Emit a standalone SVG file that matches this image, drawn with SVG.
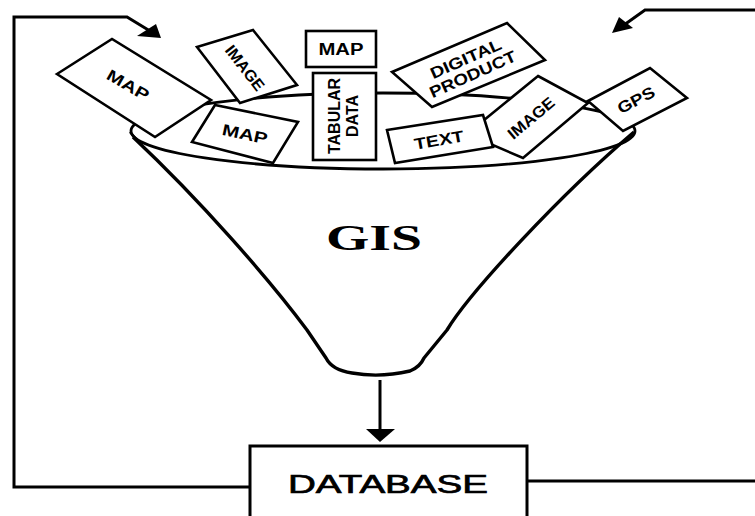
<svg xmlns="http://www.w3.org/2000/svg" width="755" height="516" viewBox="0 0 755 516">
<style>
.box{fill:#fff;stroke:#000;stroke-width:2.6;stroke-linejoin:miter}
.lbl{font-family:"Liberation Sans",Arial,sans-serif;font-size:16px;fill:#000;text-anchor:middle;font-weight:bold}
.line{fill:none;stroke:#000;stroke-width:3}
.head{fill:#000;stroke:none}
</style>
<rect width="755" height="516" fill="#fff"/>
<g id="connectors">
<polyline class="line" points="250,487 14,487 14,17 127,17 150,31"/>
<polygon class="head" points="137,36 156,24 161,38"/>
<polyline class="line" points="527,481 755,481"/>
<polyline class="line" points="755,10 645,10 624,25"/>
<polygon class="head" points="612,33 619,17 633,28"/>
<line class="line" x1="380" y1="380" x2="380" y2="432"/>
<polygon class="head" points="366,429 395,429 380,442"/>
</g>
<g id="funnel">
<ellipse cx="383" cy="131" rx="252" ry="38" fill="#fff" stroke="#000" stroke-width="2.8"/>
<path d="M133,137 C200,200 270,280 307,330 L326,358 Q332,370 352,373 Q380,378 410,371 Q420,367 424,358 L447,330 C470,292 560,195 634,132" fill="none" stroke="#000" stroke-width="3.4" stroke-linejoin="round"/>
<path d="M130,132 L137,140" fill="none" stroke="#000" stroke-width="2.6"/>
<text x="374" y="250" font-family="'Liberation Serif','Times New Roman',serif" font-size="35" font-weight="bold" text-anchor="middle" textLength="96" lengthAdjust="spacingAndGlyphs">GIS</text>
</g>
<g id="map1">
<polygon class="box" points="57,74 112,39 211,100 155,137"/>
<text class="lbl" transform="translate(128,85) rotate(30)" dy="0.35em" textLength="46" lengthAdjust="spacingAndGlyphs">MAP</text>
</g>
<g id="image1">
<polygon class="box" points="197,47 253,30 297,85 240,103"/>
<text class="lbl" font-size="15" transform="translate(245,68) rotate(52)" dy="0.35em" textLength="53" lengthAdjust="spacingAndGlyphs">IMAGE</text>
</g>
<g id="map2">
<polygon class="box" points="215,105 298,122 273,163 192,142"/>
<text class="lbl" transform="translate(245,134) rotate(12)" dy="0.35em" textLength="46" lengthAdjust="spacingAndGlyphs">MAP</text>
</g>
<g id="map3">
<rect class="box" x="306" y="31" width="70" height="36"/>
<text class="lbl" x="341" y="49" dy="0.35em" textLength="45" lengthAdjust="spacingAndGlyphs">MAP</text>
</g>
<g id="tabular">
<rect class="box" x="313" y="73" width="63" height="87"/>
<text class="lbl" font-size="14" transform="translate(344.5,116) rotate(-90)"><tspan x="0" y="-10.5" dy="0.35em">TABULAR</tspan><tspan x="0" y="8" dy="0.35em">DATA</tspan></text>
</g>
<g id="digital">
<polygon class="box" points="392,72 507,23 545,60 432,107"/>
<text class="lbl" transform="translate(469,66) rotate(-24)"><tspan x="0" y="-8" dy="0.35em" textLength="76" lengthAdjust="spacingAndGlyphs">DIGITAL</tspan><tspan x="0" y="9" dy="0.35em" textLength="93" lengthAdjust="spacingAndGlyphs">PRODUCT</tspan></text>
</g>
<g id="gps">
<polygon class="box" points="588,101 650,68 687,98 623,131"/>
<text class="lbl" transform="translate(636,100) rotate(-28)" dy="0.35em" textLength="40" lengthAdjust="spacingAndGlyphs">GPS</text>
</g>
<g id="image2">
<polygon class="box" points="538,76 588,103 523,158 467,134"/>
<text class="lbl" font-size="15" transform="translate(531,118) rotate(-40)" dy="0.35em" textLength="56" lengthAdjust="spacingAndGlyphs">IMAGE</text>
</g>
<g id="text">
<polygon class="box" points="387,130 483,115 493,147 395,163"/>
<text class="lbl" transform="translate(439,140) rotate(-10)" dy="0.35em" textLength="50" lengthAdjust="spacingAndGlyphs">TEXT</text>
</g>
<g id="database">
<rect x="250" y="446" width="277" height="90" fill="#fff" stroke="#000" stroke-width="3"/>
<text x="388" y="493" font-family="'Liberation Sans',Arial,sans-serif" font-size="26" text-anchor="middle" stroke="#000" stroke-width="0.7" textLength="200" lengthAdjust="spacingAndGlyphs">DATABASE</text>
</g>
</svg>
